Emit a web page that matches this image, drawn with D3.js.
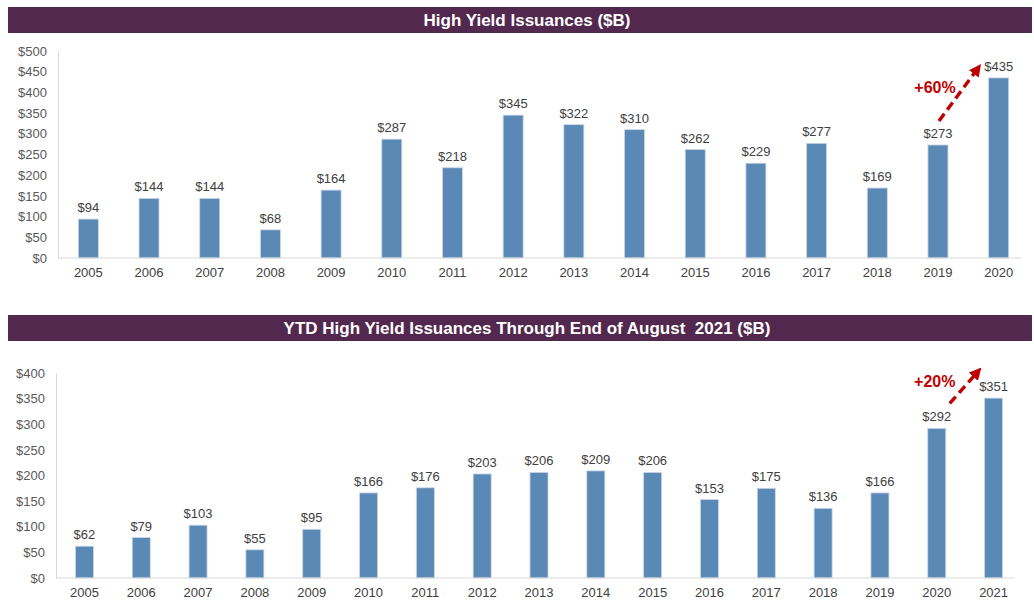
<!DOCTYPE html>
<html>
<head>
<meta charset="utf-8">
<script src="https://cdn.jsdelivr.net/npm/d3@7"></script>
<style>
  body { margin: 0; background: #fff; }
  svg { font-family: Arial, "Liberation Sans", sans-serif; }
</style>
</head>
<body>
<svg id="chart" width="1034" height="608"></svg>
<script>
// annual totals, 2005-2020
const fullYears = ['2005','2006','2007','2008','2009','2010','2011','2012','2013','2014','2015','2016','2017','2018','2019','2020'];
const fullValues = [94, 144, 144, 68, 164, 287, 218, 345, 322, 310, 262, 229, 277, 169, 273, 435];
const fullTicks = [0, 50, 100, 150, 200, 250, 300, 350, 400, 450, 500];

// YTD through August, 2005-2021
const ytdYears = ['2005','2006','2007','2008','2009','2010','2011','2012','2013','2014','2015','2016','2017','2018','2019','2020','2021'];
const ytdValues = [62, 79, 103, 55, 95, 166, 176, 203, 206, 209, 206, 153, 175, 136, 166, 292, 351];
const ytdTicks = [0, 50, 100, 150, 200, 250, 300, 350, 400];

const svg = d3.select('#chart');

const defs = svg.append('defs');
defs.append('marker')
    .attr('id', 'arrowhead')
    .attr('viewBox', '0 0 10 10')
    .attr('refX', 4).attr('refY', 5)
    .attr('markerWidth', 3.6).attr('markerHeight', 3.6)
    .attr('orient', 'auto')
  .append('path')
    .attr('d', 'M0,0 L10,5 L0,10 Z')
    .attr('fill', '#c00000');

function drawPanel(cfg) {
    // title bar
    svg.append('rect')
        .attr('x', 8).attr('y', cfg.barTop)
        .attr('width', 1024).attr('height', 26)
        .attr('fill', '#52284e');
    svg.append('text')
        .attr('x', 527).attr('y', cfg.barTop + 13)
        .attr('dy', '0.35em')
        .attr('text-anchor', 'middle')
        .attr('fill', '#fff')
        .attr('font-size', '17px')
        .attr('font-weight', 'bold')
        .attr('xml:space', 'preserve')
        .text(cfg.title);

    const x = d3.scaleBand()
        .domain(cfg.years)
        .range([cfg.left, cfg.right]);

    const y = d3.scaleLinear()
        .domain([0, d3.max(cfg.ticks)])
        .range([cfg.bottom, cfg.top]);

    const g = svg.append('g');

    // y axis
    const yAxis = d3.axisLeft(y)
        .tickValues(cfg.ticks)
        .tickSize(0)
        .tickPadding(11)
        .tickFormat(d => '$' + d);
    g.append('g')
        .attr('transform', `translate(${cfg.left},0)`)
        .call(yAxis)
        .call(a => a.select('.domain').attr('stroke', '#d9d9d9'))
        .selectAll('text')
        .attr('fill', '#595959')
        .attr('font-size', '13px')
        .attr('font-family', 'Arial, "Liberation Sans", sans-serif');

    // bars
    g.selectAll('rect.bar')
        .data(cfg.values)
        .join('rect')
        .attr('class', 'bar')
        .attr('x', (d, i) => x(cfg.years[i]) + (x.bandwidth() - cfg.barWidth) / 2)
        .attr('y', d => y(d))
        .attr('width', cfg.barWidth)
        .attr('height', d => y(0) - y(d))
        .attr('fill', '#5b89b5')
        .attr('stroke', '#c9d7e6')
        .attr('stroke-width', 0.8);

    // value labels
    g.selectAll('text.val')
        .data(cfg.values)
        .join('text')
        .attr('class', 'val')
        .attr('x', (d, i) => x(cfg.years[i]) + x.bandwidth() / 2)
        .attr('y', d => y(d) - 7)
        .attr('text-anchor', 'middle')
        .attr('fill', '#404040')
        .attr('font-size', '13px')
        .text(d => '$' + d);

    // x axis
    const xAxis = d3.axisBottom(x).tickSize(0).tickPadding(10);
    g.append('g')
        .attr('transform', `translate(0,${cfg.bottom})`)
        .call(xAxis)
        .call(a => a.select('.domain').attr('stroke', '#d9d9d9').attr('d', `M${cfg.left},0H${cfg.right - 8}`))
        .selectAll('text')
        .attr('fill', '#404040')
        .attr('font-size', '13px')
        .attr('font-family', 'Arial, "Liberation Sans", sans-serif');

    // growth annotation
    const n = cfg.years.length;
    const x0 = x(cfg.years[n - 2]) + x.bandwidth() / 2;
    const x1 = x(cfg.years[n - 1]) + x.bandwidth() / 2;
    g.append('line')
        .attr('x1', x0 + cfg.arrow[0]).attr('y1', y(cfg.values[n - 2]) + cfg.arrow[1])
        .attr('x2', x1 + cfg.arrow[2]).attr('y2', y(cfg.values[n - 1]) + cfg.arrow[3])
        .attr('stroke', '#c00000')
        .attr('stroke-width', 3.4)
        .attr('stroke-dasharray', '9,5')
        .attr('marker-end', 'url(#arrowhead)');
    g.append('text')
        .attr('x', x0 + cfg.labelDx).attr('y', cfg.labelY)
        .attr('dy', '0.35em')
        .attr('text-anchor', 'middle')
        .attr('fill', '#c00000')
        .attr('font-size', '16px')
        .attr('font-weight', 'bold')
        .text(cfg.growth);
}

drawPanel({
    title: 'High Yield Issuances ($B)',
    barTop: 7,
    years: fullYears, values: fullValues, ticks: fullTicks,
    left: 58, right: 1029, top: 51, bottom: 258,
    barWidth: 20,
    arrow: [1, -24, -22, -8],
    labelY: 87, labelDx: -3,
    growth: '+60%'
});

drawPanel({
    title: 'YTD High Yield Issuances Through End of August  2021 ($B)',
    barTop: 315,
    years: ytdYears, values: ytdValues, ticks: ytdTicks,
    left: 56, right: 1022, top: 373, bottom: 578,
    barWidth: 18,
    arrow: [13, -25, -17, -25],
    labelY: 381, labelDx: -2,
    growth: '+20%'
});
</script>
</body>
</html>
